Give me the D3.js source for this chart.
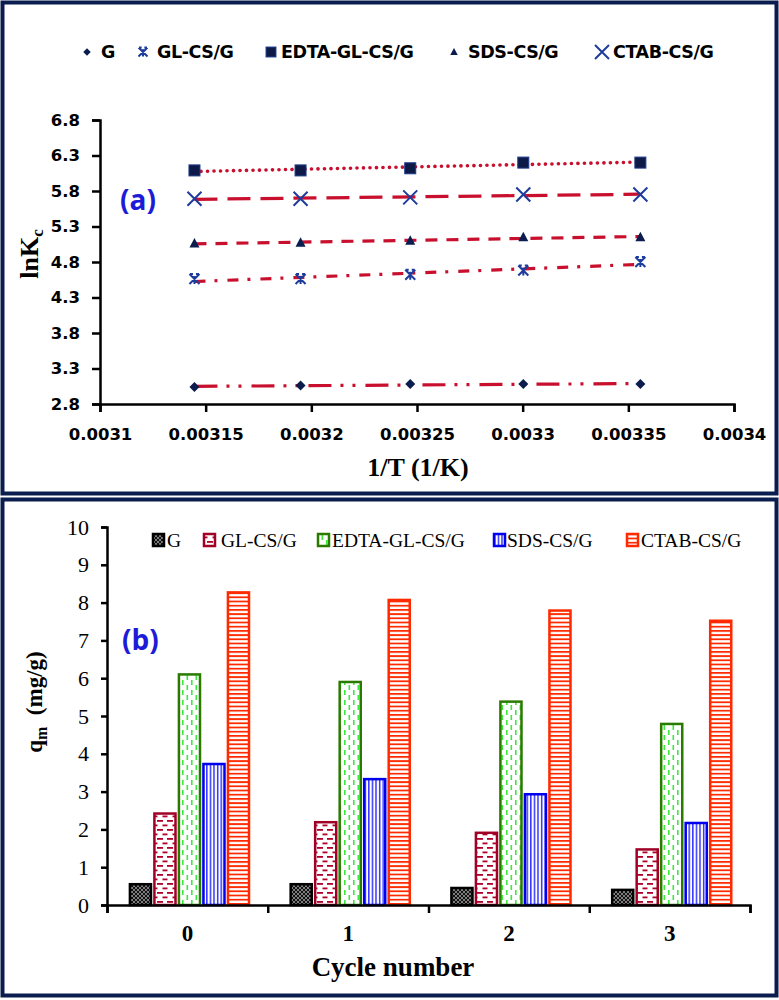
<!DOCTYPE html>
<html><head><meta charset="utf-8">
<script src="https://cdn.jsdelivr.net/npm/d3@7"></script>
<style>body{margin:0;background:#fff}svg{display:block}</style>
</head><body>
<svg id="chart" width="779" height="1000"></svg>
<script>
// ---------- data: panel (a) ----------
const invT = [0.0031447, 0.0031949, 0.0032468, 0.0033003, 0.0033557];
const seriesA = ["G", "GL-CS/G", "EDTA-GL-CS/G", "SDS-CS/G", "CTAB-CS/G"];
const lnKc_G    = [3.04, 3.06, 3.08, 3.08, 3.08];
const lnKc_GL   = [4.56, 4.56, 4.62, 4.68, 4.80];
const lnKc_EDTA = [6.09, 6.09, 6.12, 6.20, 6.20];
const lnKc_SDS  = [5.06, 5.07, 5.10, 5.15, 5.15];
const lnKc_CTAB = [5.69, 5.69, 5.71, 5.75, 5.75];
const yTicksA = [2.8, 3.3, 3.8, 4.3, 4.8, 5.3, 5.8, 6.3, 6.8];
const xTicksA = [0.0031, 0.00315, 0.0032, 0.00325, 0.0033, 0.00335, 0.0034];
const xTickLabelsA = ["0.0031", "0.00315", "0.0032", "0.00325", "0.0033", "0.00335", "0.0034"];

// ---------- data: panel (b) ----------
const cycles = ["0", "1", "2", "3"];
const seriesB = ["G", "GL-CS/G", "EDTA-GL-CS/G", "SDS-CS/G", "CTAB-CS/G"];
const qm_G    = [0.55, 0.55, 0.45, 0.40];
const qm_GL   = [2.42, 2.19, 1.91, 1.47];
const qm_EDTA = [6.10, 5.90, 5.38, 4.79];
const qm_SDS  = [3.73, 3.33, 2.93, 2.17];
const qm_CTAB = [8.27, 8.07, 7.79, 7.52];
const yTicksB = [0,1,2,3,4,5,6,7,8,9,10];

const svg = d3.select("#chart");
const navy = "#0b1d4e";

// panel frames
svg.append("rect").attr("x",2.5).attr("y",2.5).attr("width",774).attr("height",491)
  .attr("fill","none").attr("stroke",navy).attr("stroke-width",4);
svg.append("rect").attr("x",2.5).attr("y",499.5).attr("width",774).attr("height",496)
  .attr("fill","none").attr("stroke",navy).attr("stroke-width",4);

// ================= Panel (a) =================
const xA = d3.scaleLinear().domain([0.0031, 0.0034]).range([100, 734]);
const yA = d3.scaleLinear().domain([2.8, 6.8]).range([404, 120]);
const lineRed = "#c8102e";

const gA = svg.append("g");
const axA_y = gA.append("g").attr("transform","translate(100,0)")
  .call(d3.axisLeft(yA).tickValues(yTicksA).tickFormat(d3.format(".1f")).tickSizeOuter(0).tickSize(8).tickPadding(12));
const axA_x = gA.append("g").attr("transform","translate(0,404)")
  .call(d3.axisBottom(xA).tickValues(xTicksA).tickFormat((d,i)=>xTickLabelsA[i]).tickSizeOuter(0).tickSize(8).tickPadding(16));
[axA_y, axA_x].forEach(a=>{
  a.selectAll("path,line").attr("stroke","#000").attr("stroke-width",2.5);
  a.selectAll("text").attr("fill","#000").attr("font-family","DejaVu Sans").attr("font-weight","bold").attr("font-size",16.5);
});

const setsA = [
  {name:"G", vals:lnKc_G, dash:"23 9 3 9 3 10", marker:"diamond"},
  {name:"GL-CS/G", vals:lnKc_GL, dash:"11 9 3 10", marker:"star"},
  {name:"EDTA-GL-CS/G", vals:lnKc_EDTA, dash:"0.1 6.4", marker:"square"},
  {name:"SDS-CS/G", vals:lnKc_SDS, dash:"12 9", marker:"triangle"},
  {name:"CTAB-CS/G", vals:lnKc_CTAB, dash:"23 10", marker:"x"}
];

function fit(xs, ys){
  const mx = d3.mean(xs), my = d3.mean(ys);
  let sxy=0, sxx=0;
  xs.forEach((x,i)=>{sxy+=(x-mx)*(ys[i]-my); sxx+=(x-mx)*(x-mx);});
  const b = sxy/sxx; return {a: my-b*mx, b};
}

function drawMarker(g, type, cx, cy, scale){
  const s = scale || 1;
  if(type==="diamond"){
    g.append("path").attr("d",`M${cx},${cy-5*s}L${cx+5*s},${cy}L${cx},${cy+5*s}L${cx-5*s},${cy}Z`).attr("fill",navy);
  } else if(type==="square"){
    g.append("rect").attr("x",cx-5.5*s).attr("y",cy-5.5*s).attr("width",11*s).attr("height",11*s)
      .attr("fill","#0d1a48").attr("stroke","#1c3a8a").attr("stroke-width",1);
  } else if(type==="triangle"){
    g.append("path").attr("d",`M${cx},${cy-5.5*s}L${cx+5*s},${cy+4*s}L${cx-5*s},${cy+4*s}Z`).attr("fill",navy);
  } else if(type==="x"){
    const r=7*s;
    g.append("path").attr("d",`M${cx-r},${cy-r}L${cx+r},${cy+r}M${cx+r},${cy-r}L${cx-r},${cy+r}`)
      .attr("stroke","#1d3c9c").attr("stroke-width",2).attr("fill","none");
  } else if(type==="star"){
    const r=5*s;
    g.append("path").attr("d",`M${cx-r},${cy-r}L${cx+r},${cy+r}M${cx+r},${cy-r}L${cx-r},${cy+r}M${cx},${cy-r*0.6}L${cx},${cy+r}M${cx-r*0.9},${cy-r}L${cx-r*0.3},${cy-r}M${cx+r*0.3},${cy-r}L${cx+r*0.9},${cy-r}`)
      .attr("stroke","#1d3c9c").attr("stroke-width",2).attr("fill","none");
  }
}

setsA.forEach(s=>{
  const f = fit(invT, s.vals);
  const x0 = invT[0], x1 = invT[invT.length-1];
  gA.append("line")
    .attr("x1", xA(x0)).attr("y1", yA(f.a+f.b*x0))
    .attr("x2", xA(x1)).attr("y2", yA(f.a+f.b*x1))
    .attr("stroke", lineRed).attr("stroke-width", s.marker==="square"?3.6:3.2)
    .attr("stroke-linecap", s.marker==="square"?"round":"butt")
    .attr("stroke-dasharray", s.dash);
});
setsA.forEach(s=>{
  const mg = gA.append("g");
  s.vals.forEach((v,i)=> drawMarker(mg, s.marker, xA(invT[i]), yA(v)));
});

// legend (a)
const legA = [
  {m:"diamond", mx:87, tx:101},
  {m:"star", mx:143, tx:157},
  {m:"square", mx:271, tx:281},
  {m:"triangle", mx:454, tx:468},
  {m:"x", mx:602, tx:613}
];
legA.forEach((l,i)=>{
  const scale = l.m==="diamond"?0.75 : l.m==="square"?0.9 : l.m==="triangle"?0.75 : l.m==="x"?1.0 : 0.9;
  drawMarker(gA, l.m, l.mx, 52, scale);
  gA.append("text").attr("x",l.tx).attr("y",52).attr("dy","0.36em").text(seriesA[i])
    .attr("font-family","DejaVu Sans").attr("font-weight","bold").attr("font-size",17.5)
    .attr("letter-spacing","-0.4").attr("fill","#000");
});

gA.append("text").attr("x",120).attr("y",200).attr("dy","0.36em").text("(a)")
  .attr("font-family","Open Sans").attr("font-weight","bold").attr("font-size",28).attr("fill","#1b1bd8");

// y label (a)
const yl = gA.append("text").attr("transform","translate(38,254) rotate(-90)").attr("text-anchor","middle")
  .attr("font-family","Liberation Serif").attr("font-weight","bold").attr("font-size",26).attr("fill","#000");
yl.append("tspan").text("lnK");
yl.append("tspan").text("c").attr("font-size",17).attr("dy",5);
// x label (a)
gA.append("text").attr("x",418).attr("y",476).attr("text-anchor","middle").text("1/T (1/K)")
  .attr("font-family","Liberation Serif").attr("font-weight","bold").attr("font-size",26).attr("fill","#000");

// ================= Panel (b) =================
const defs = svg.append("defs");
// G: dark cross-hatch
let p = defs.append("pattern").attr("id","pG").attr("patternUnits","userSpaceOnUse").attr("width",4).attr("height",4);
p.append("rect").attr("width",4).attr("height",4).attr("fill","#111");
p.append("path").attr("d","M0,0L4,4M4,0L0,4").attr("stroke","#9a9a9a").attr("stroke-width",0.8);
// GL: red brick dashes
p = defs.append("pattern").attr("id","pGL").attr("patternUnits","userSpaceOnUse").attr("width",10).attr("height",9);
p.append("rect").attr("width",10).attr("height",9).attr("fill","#fff");
p.append("rect").attr("x",0).attr("y",1).attr("width",3).attr("height",1.8).attr("fill","#b0002a");
p.append("rect").attr("x",7).attr("y",1).attr("width",3).attr("height",1.8).attr("fill","#b0002a");
p.append("rect").attr("x",2.5).attr("y",5.5).attr("width",5).attr("height",1.8).attr("fill","#b0002a");
// EDTA: green dashed verticals
p = defs.append("pattern").attr("id","pEDTA").attr("patternUnits","userSpaceOnUse").attr("width",9).attr("height",10);
p.append("rect").attr("width",9).attr("height",10).attr("fill","#fff");
p.append("rect").attr("x",2).attr("y",0).attr("width",1.6).attr("height",5).attr("fill","#3de83d");
p.append("rect").attr("x",6.5).attr("y",5).attr("width",1.6).attr("height",5).attr("fill","#3de83d");
// SDS: blue verticals
p = defs.append("pattern").attr("id","pSDS").attr("patternUnits","userSpaceOnUse").attr("width",3.6).attr("height",10);
p.append("rect").attr("width",3.6).attr("height",10).attr("fill","#fff");
p.append("rect").attr("x",1).attr("y",0).attr("width",1.3).attr("height",10).attr("fill","#1414ff");
// CTAB: red-orange horizontals
p = defs.append("pattern").attr("id","pCTAB").attr("patternUnits","userSpaceOnUse").attr("width",10).attr("height",4.2);
p.append("rect").attr("width",10).attr("height",4.2).attr("fill","#fff");
p.append("rect").attr("x",0).attr("y",0).attr("width",10).attr("height",1.8).attr("fill","#ff2a00");

const fillsB = ["url(#pG)","url(#pGL)","url(#pEDTA)","url(#pSDS)","url(#pCTAB)"];
const strokesB = ["#000","#a00026","#2a7a00","#0000ee","#ff2a00"];
const valsB = [qm_G, qm_GL, qm_EDTA, qm_SDS, qm_CTAB];

const x0B = d3.scaleBand().domain(cycles).range([107, 750]).padding(0);
const x1B = d3.scaleBand().domain(seriesB).range([0, x0B.bandwidth()]).paddingInner(0.14).paddingOuter(0.85).align(0.55);
const yB = d3.scaleLinear().domain([0, 10]).range([905, 527]);

const gB = svg.append("g");
seriesB.forEach((s,si)=>{
  cycles.forEach((c,ci)=>{
    const v = valsB[si][ci];
    gB.append("rect")
      .attr("x", x0B(c)+x1B(s)).attr("y", yB(v))
      .attr("width", x1B.bandwidth()).attr("height", yB(0)-yB(v))
      .attr("fill", fillsB[si]).attr("stroke", strokesB[si]).attr("stroke-width", 2.5);
  });
});

const axB_y = gB.append("g").attr("transform","translate(107,0)")
  .call(d3.axisLeft(yB).tickValues(yTicksB).tickFormat(d3.format("d")).tickSizeOuter(0).tickSize(6).tickPadding(12));
axB_y.selectAll("path,line").attr("stroke","#000").attr("stroke-width",2.5);
axB_y.selectAll("text").attr("fill","#000").attr("font-family","Liberation Serif").attr("font-size",22);

// x axis (b): boundary ticks + centred labels
const bounds = cycles.map(c=>x0B(c)).concat([x0B.range()[1]]);
const xLin = d3.scaleLinear().domain([107,750]).range([107,750]);
const axB_x = gB.append("g").attr("transform","translate(0,905)")
  .call(d3.axisBottom(xLin).tickValues(bounds).tickFormat("").tickSizeOuter(0).tickSize(8));
axB_x.selectAll("path,line").attr("stroke","#000").attr("stroke-width",2.5);
const axB_lab = gB.append("g").attr("transform","translate(0,905)")
  .call(d3.axisBottom(x0B).tickSize(0).tickPadding(20));
axB_lab.select("path").remove();
axB_lab.selectAll("text").attr("fill","#000").attr("font-family","Liberation Serif").attr("font-weight","bold").attr("font-size",23);

// legend (b)
const legB = [
  {sx:153, tx:167},
  {sx:204, tx:221},
  {sx:318, tx:332},
  {sx:494, tx:507},
  {sx:627, tx:641}
];
legB.forEach((l,i)=>{
  gB.append("rect").attr("x",l.sx).attr("y",534).attr("width",11).attr("height",12)
    .attr("fill",fillsB[i]).attr("stroke",strokesB[i]).attr("stroke-width",2.5);
  gB.append("text").attr("x",l.tx).attr("y",540).attr("dy","0.35em").text(seriesB[i])
    .attr("font-family","Liberation Serif").attr("font-size",19.5).attr("fill","#000");
});

gB.append("text").attr("x",122).attr("y",640).attr("dy","0.36em").text("(b)")
  .attr("font-family","Open Sans").attr("font-weight","bold").attr("font-size",28).attr("fill","#1b1bd8");

const ylb = gB.append("text").attr("transform","translate(42,702) rotate(-90)").attr("text-anchor","middle")
  .attr("font-family","Liberation Serif").attr("font-weight","bold").attr("font-size",23).attr("fill","#000");
ylb.append("tspan").text("q");
ylb.append("tspan").text("m").attr("font-size",16).attr("dy",5);
ylb.append("tspan").text("\u00a0 (mg/g)").attr("dy",-5);

gB.append("text").attr("x",393).attr("y",976).attr("text-anchor","middle").text("Cycle number")
  .attr("font-family","Liberation Serif").attr("font-weight","bold").attr("font-size",27).attr("fill","#000");
</script>
</body></html>
